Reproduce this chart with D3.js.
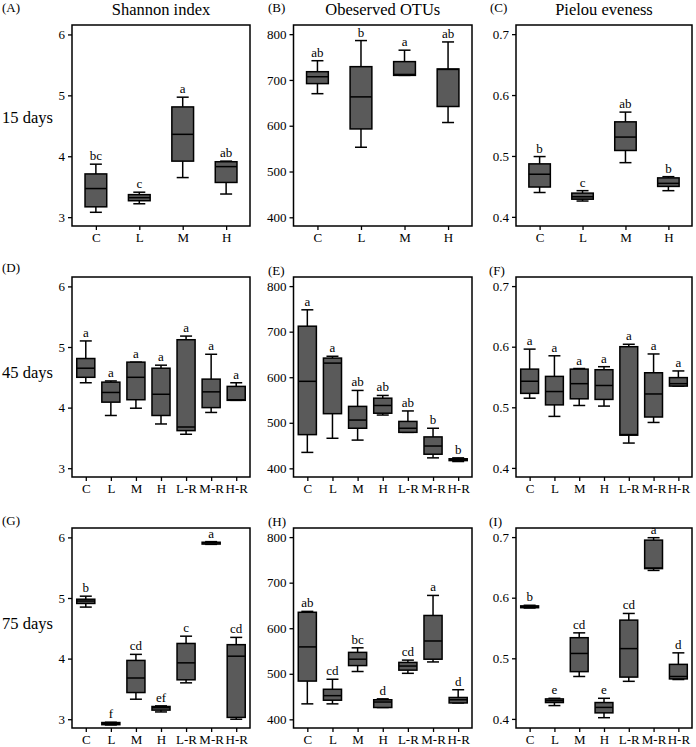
<!DOCTYPE html>
<html><head><meta charset="utf-8">
<script src="https://cdn.jsdelivr.net/npm/d3@7"></script>
<style>body{margin:0;background:#fff;} svg{display:block;} svg text{font-family:"Liberation Serif","Times New Roman",serif;fill:#000;}</style>
</head><body><svg id="c" width="696" height="747"></svg>
<script>
const groups4 = ["C","L","M","H"];
const groups7 = ["C","L","M","H","L-R","M-R","H-R"];
const metricTitles = ["Shannon index","Obeserved OTUs","Pielou eveness"];
const rowLabels = ["15 days","45 days","75 days"];
const panelTags = ["(A)","(B)","(C)","(D)","(E)","(F)","(G)","(H)","(I)"];
const shannonTicks = [3,4,5,6];
const otuTicks = [400,500,600,700,800];
const pielouTicks = [0.4,0.5,0.6,0.7];

// each box: [low whisker, Q1, median, Q3, high whisker]
const shannon15 = [[3.08,3.17,3.47,3.71,3.87],[3.22,3.27,3.32,3.37,3.41],[3.65,3.92,4.36,4.81,4.97],[3.38,3.57,3.83,3.91,3.92]];
const shannon15Letters = ["bc","c","a","ab"];
const otu15 = [[670,692,707,718,742],[553,593,663,729,786],[710,710,712,740,765],[607,642,723,724,783]];
const otu15Letters = ["ab","b","a","ab"];
const pielou15 = [[0.440,0.449,0.470,0.487,0.499],[0.426,0.429,0.433,0.439,0.443],[0.489,0.509,0.531,0.556,0.572],[0.443,0.450,0.455,0.464,0.466]];
const pielou15Letters = ["b","c","ab","b"];

const shannon45 = [[4.41,4.50,4.65,4.81,5.10],[3.87,4.09,4.25,4.42,4.44],[3.99,4.13,4.50,4.75,4.75],[3.73,3.87,4.22,4.65,4.70],[3.56,3.62,3.68,5.12,5.18],[3.92,4.00,4.26,4.47,4.88],[4.12,4.12,4.13,4.35,4.41]];
const shannon45Letters = ["a","a","a","a","a","a","a"];
const otu45 = [[435,474,591,712,748],[466,520,631,642,646],[462,488,506,536,571],[517,521,538,554,560],[479,479,488,503,526],[423,431,449,469,488],[415,417,419,421,423]];
const otu45Letters = ["a","a","ab","ab","ab","b","b"];
const pielou45 = [[0.515,0.523,0.543,0.563,0.596],[0.485,0.504,0.526,0.551,0.585],[0.503,0.514,0.539,0.563,0.564],[0.502,0.513,0.536,0.562,0.567],[0.441,0.454,0.455,0.600,0.604],[0.475,0.484,0.522,0.557,0.588],[0.535,0.535,0.539,0.549,0.560]];
const pielou45Letters = ["a","a","a","a","a","a","a"];

const shannon75 = [[4.85,4.91,4.95,4.98,5.03],[2.905,2.91,2.93,2.945,2.95],[3.33,3.44,3.68,3.97,4.07],[3.12,3.15,3.19,3.21,3.22],[3.60,3.65,3.93,4.25,4.37],[5.885,5.89,5.91,5.92,5.93],[3.00,3.03,4.04,4.23,4.35]];
const shannon75Letters = ["b","f","cd","ef","c","a","cd"];
const otu75 = [[434,484,559,635,637],[434,442,452,466,488],[505,518,532,547,557],[426,426,438,443,445],[501,508,517,525,530],[526,532,572,628,672],[436,436,443,448,465]];
const otu75Letters = ["ab","cd","bc","d","cd","a","d"];
const pielou75 = [[0.583,0.5835,0.585,0.5865,0.5875],[0.422,0.427,0.430,0.433,0.434],[0.470,0.478,0.508,0.534,0.542],[0.402,0.410,0.419,0.427,0.434],[0.462,0.469,0.516,0.563,0.574],[0.645,0.648,0.649,0.695,0.699],[0.465,0.466,0.470,0.490,0.509]];
const pielou75Letters = ["b","e","cd","e","cd","a","d"];

const panels = [
  {g:groups4, d:shannon15, l:shannon15Letters, m:0},
  {g:groups4, d:otu15, l:otu15Letters, m:1},
  {g:groups4, d:pielou15, l:pielou15Letters, m:2},
  {g:groups7, d:shannon45, l:shannon45Letters, m:0},
  {g:groups7, d:otu45, l:otu45Letters, m:1},
  {g:groups7, d:pielou45, l:pielou45Letters, m:2},
  {g:groups7, d:shannon75, l:shannon75Letters, m:0},
  {g:groups7, d:otu75, l:otu75Letters, m:1},
  {g:groups7, d:pielou75, l:pielou75Letters, m:2}
];

const metricAxis = [
  {domain:[2.855,6.155], ticks:shannonTicks, fmt:d3.format("d")},
  {domain:[381,820], ticks:otuTicks, fmt:d3.format("d")},
  {domain:[0.385,0.715], ticks:pielouTicks, fmt:d3.format(".1f")}
];

const colX0 = [72, 293.5, 516], colX1 = [250, 472, 692];
const rowY0 = [25, 277, 528], rowY1 = [226, 477, 728];
const tagPos = [[2,12],[268,12],[490,12],[2,272],[268,275],[489,275],[2,525],[268,526],[489,526]];
const rowLabelY = [123, 378, 629];
const fill = "#5a5a5a";

const svg = d3.select("#c");

metricTitles.forEach((t,i)=>{
  svg.append("text").attr("x",(colX0[i]+colX1[i])/2).attr("y",14.5)
    .attr("text-anchor","middle").attr("font-size",16.5).text(t);
});
rowLabels.forEach((t,i)=>{
  svg.append("text").attr("x",2).attr("y",rowLabelY[i]).attr("font-size",16.5).text(t);
});

panels.forEach((p,idx)=>{
  const r = Math.floor(idx/3), c = idx%3;
  const x0 = colX0[c], x1 = colX1[c], y0 = rowY0[r], y1 = rowY1[r];
  const ax = metricAxis[p.m];
  const y = d3.scaleLinear().domain(ax.domain).range([y1,y0]);
  const x = d3.scalePoint().domain(p.g).range([x0,x1]).padding(0.55);
  const step = x.step();
  const bw = (p.g.length===4 ? 0.5 : 0.72)*step;
  const cap = 12;
  const g = svg.append("g");

  svg.append("text").attr("x",tagPos[idx][0]).attr("y",tagPos[idx][1]).attr("font-size",13).text(panelTags[idx]);

  const ya = g.append("g").attr("transform",`translate(${x0},0)`)
    .call(d3.axisLeft(y).tickValues(ax.ticks).tickFormat(ax.fmt).tickSize(4).tickPadding(3));
  const xa = g.append("g").attr("transform",`translate(0,${y1})`)
    .call(d3.axisBottom(x).tickSize(4).tickPadding(3));
  [ya,xa].forEach(a=>{
    a.select(".domain").remove();
    a.selectAll("line").attr("stroke","#000").attr("stroke-width",1.3);
    a.selectAll("text").attr("font-size",13).attr("fill","#000").attr("font-family","Liberation Serif, serif");
  });

  const boxes = g.selectAll("g.box").data(p.d).join("g").attr("class","box");
  boxes.each(function(d,i){
    const cx = x(p.g[i]);
    const s = d3.select(this);
    const seg = (xa1,xa2,ya1,ya2)=>s.append("line").attr("x1",xa1).attr("x2",xa2).attr("y1",ya1).attr("y2",ya2)
      .attr("stroke","#000").attr("stroke-width",1.5);
    seg(cx,cx,y(d[4]),y(d[3]));
    seg(cx,cx,y(d[1]),y(d[0]));
    seg(cx-cap/2,cx+cap/2,y(d[4]),y(d[4]));
    seg(cx-cap/2,cx+cap/2,y(d[0]),y(d[0]));
    s.append("rect").attr("x",cx-bw/2).attr("width",bw)
      .attr("y",y(d[3])).attr("height",Math.max(y(d[1])-y(d[3]),0.5))
      .attr("fill",fill).attr("stroke","#000").attr("stroke-width",1.5);
    seg(cx-bw/2,cx+bw/2,y(d[2]),y(d[2]));
    s.append("text").attr("x",cx).attr("y",y(d[4])-4).attr("text-anchor","middle").attr("font-size",13).text(p.l[i]);
  });

  g.append("rect").attr("x",x0).attr("y",y0).attr("width",x1-x0).attr("height",y1-y0)
    .attr("fill","none").attr("stroke","#000").attr("stroke-width",1.5);
});
</script>
</body></html>
